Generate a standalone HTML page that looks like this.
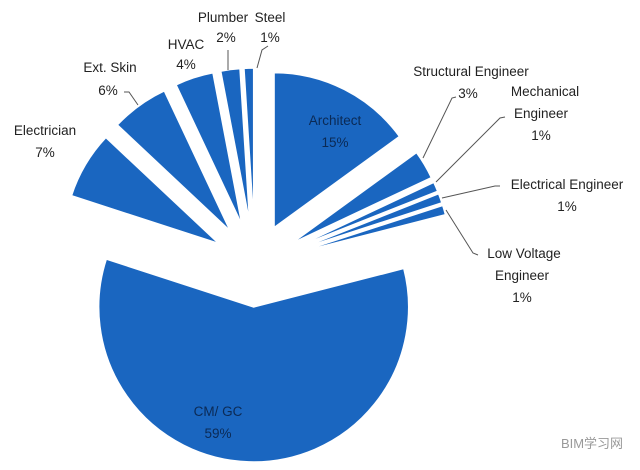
<!DOCTYPE html>
<html><head><meta charset="utf-8"><style>
body{margin:0;background:#fff;width:640px;height:470px;overflow:hidden}
svg{display:block}
text{font-family:"Liberation Sans","Noto Sans CJK SC",sans-serif;font-size:13.5px;fill:#222;text-anchor:middle}
</style></head><body>
<svg id="chart" width="640" height="470" viewBox="0 0 640 470">
<g id="slices"></g>
<g id="leaders" stroke="#555" stroke-width="1" fill="none">
<polyline points="257,68 262,50 268,46"/>
<polyline points="228,70 228,50"/>
<polyline points="138,105 129,92 124,92"/>
<polyline points="423,158 452,98 456,97"/>
<polyline points="436,182 500,118 505,117"/>
<polyline points="442,198 495,186 500,186"/>
<polyline points="446,210 473,253 478,255"/>
</g>
<g id="labels">
<text x="270" y="22">Steel</text>
<text x="270" y="42">1%</text>
<text x="223" y="22">Plumber</text>
<text x="226" y="42">2%</text>
<text x="186" y="49">HVAC</text>
<text x="186" y="69">4%</text>
<text x="110" y="72">Ext. Skin</text>
<text x="108" y="95">6%</text>
<text x="45" y="135">Electrician</text>
<text x="45" y="157">7%</text>
<text x="335" y="125" style="fill:#0b2a55">Architect</text>
<text x="335" y="147" style="fill:#0b2a55">15%</text>
<text x="471" y="76">Structural Engineer</text>
<text x="468" y="98">3%</text>
<text x="545" y="96">Mechanical</text>
<text x="541" y="118">Engineer</text>
<text x="541" y="140">1%</text>
<text x="567" y="189">Electrical Engineer</text>
<text x="567" y="211">1%</text>
<text x="524" y="258">Low Voltage</text>
<text x="522" y="280">Engineer</text>
<text x="522" y="302">1%</text>
<text x="218" y="416" style="fill:#0b2a55">CM/ GC</text>
<text x="218" y="438" style="fill:#0b2a55">59%</text>
<text x="592" y="448" style="fill:#999;font-size:13px">BIM学习网</text>
</g>
</svg>
<script>
const categories = ["Architect","Structural Engineer","Mechanical Engineer","Electrical Engineer","Low Voltage Engineer","CM/ GC","Electrician","Ext. Skin","HVAC","Plumber","Steel"];
const values = [15,3,1,1,1,59,7,6,4,2,1];
const cx = 255, cy = 265, R = 155, explode = 42;
const total = values.reduce((a,b)=>a+b,0);
const g = document.getElementById('slices');
function pt(a, r, ox, oy){ return [ox + r*Math.sin(a), oy - r*Math.cos(a)]; }
let start = 0;
values.forEach((v,i)=>{
  const sweep = v/total*2*Math.PI;
  const mid = start + sweep/2;
  const ox = cx + explode*Math.sin(mid), oy = cy - explode*Math.cos(mid);
  const p1 = pt(start, R, ox, oy), p2 = pt(start+sweep, R, ox, oy);
  const large = sweep > Math.PI ? 1 : 0;
  const p = document.createElementNS('http://www.w3.org/2000/svg','path');
  p.setAttribute('d', `M${ox},${oy} L${p1[0]},${p1[1]} A${R},${R} 0 ${large} 1 ${p2[0]},${p2[1]} Z`);
  p.setAttribute('fill', '#1a66c0');
  p.setAttribute('stroke', '#fff');
  p.setAttribute('stroke-width', '1.5');
  
  
  g.appendChild(p);
  start += sweep;
});
</script>
</body></html>
